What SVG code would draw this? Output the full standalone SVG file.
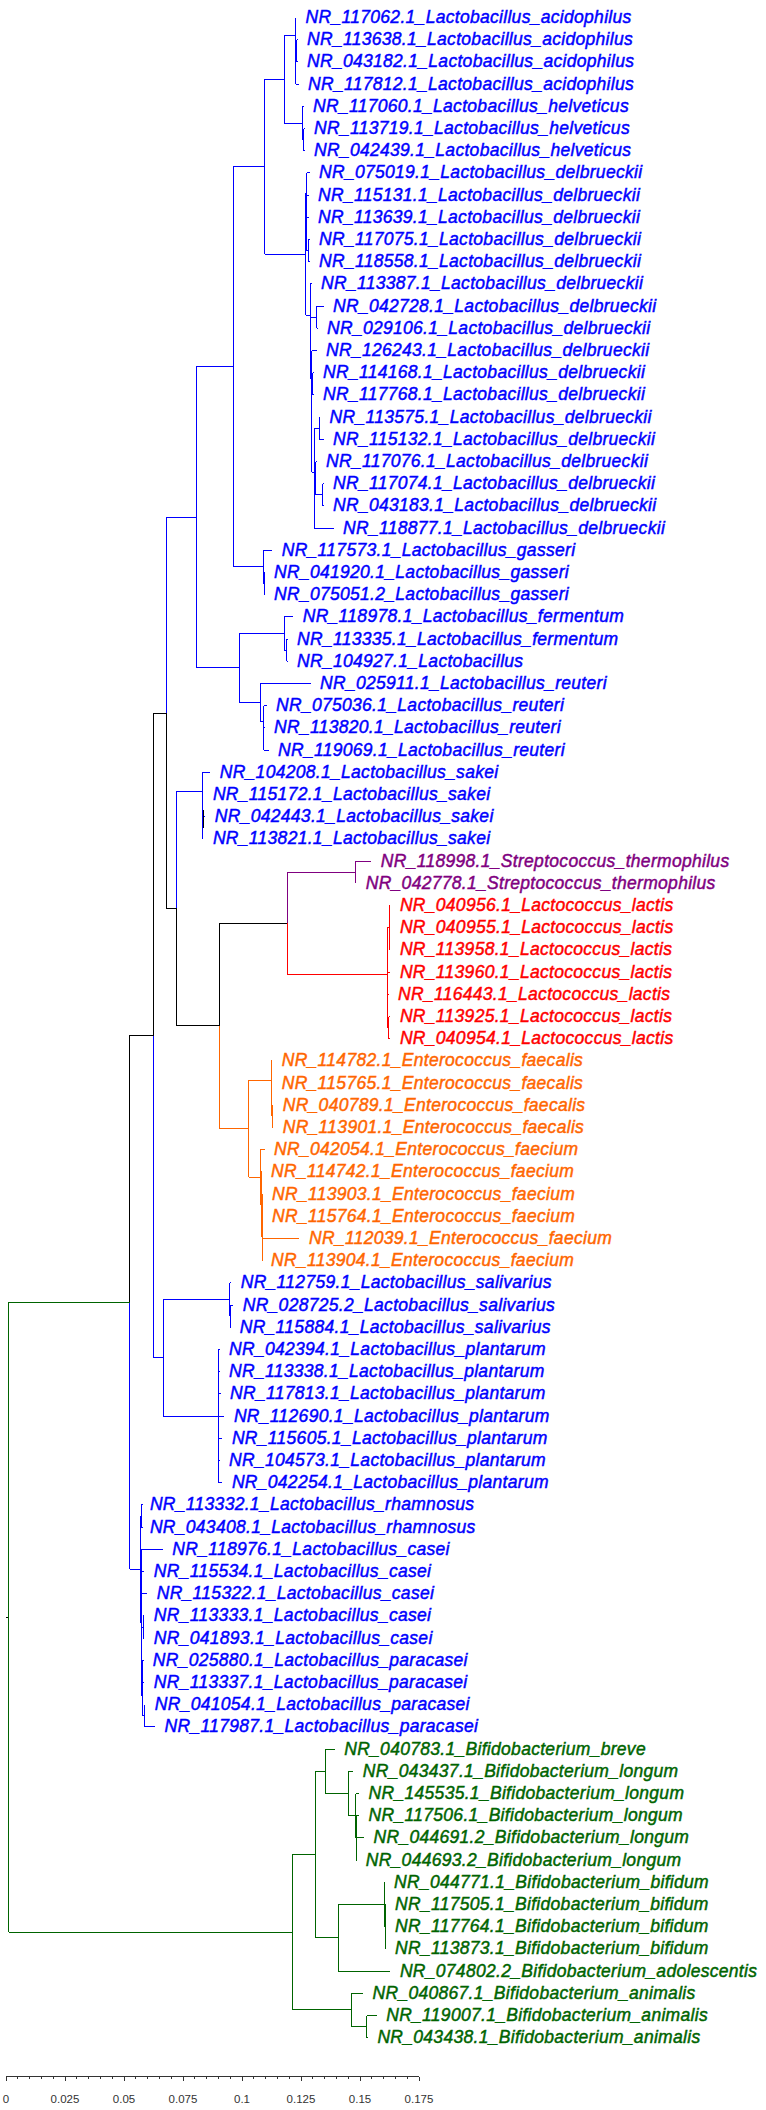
<svg xmlns="http://www.w3.org/2000/svg" width="766" height="2110" viewBox="0 0 766 2110">
<style>
.bg{fill:#ffffff}
#connectors path{fill:none;stroke-width:1;shape-rendering:crispEdges}
.sb{stroke:#0000ff}.sk{stroke:#000000}.sp{stroke:#800080}.sr{stroke:#ff0000}.so{stroke:#ff6600}.sg{stroke:#006400}
.t{font-family:"Liberation Sans",Arial,sans-serif;font-style:italic;font-size:17.5px;letter-spacing:0.3px;stroke-width:0.45px}
.fb{fill:#0000ff;stroke:#0000ff}.fp{fill:#800080;stroke:#800080}.fr{fill:#ff0000;stroke:#ff0000}.fo{fill:#ff6600;stroke:#ff6600}.fg{fill:#006400;stroke:#006400}
.scale path{fill:none;stroke:#333333;stroke-width:1;shape-rendering:crispEdges}
.sl{font-family:"Liberation Sans",Arial,sans-serif;font-size:11.5px;fill:#333333;text-anchor:middle}
</style>
<rect class="bg" x="0" y="0" width="766" height="2110"/>
<g id="connectors">
<path class="sb" d="M233.4 166.75V566.95M233.4 166.75H264.6M233.4 566.95H263.7M196.3 366.85H233.4M264.6 79.35V254.15M264.6 79.35H284.2M264.6 254.15H305.7M284.2 35.7V123M284.2 35.7H295.5M284.2 123H302M295.5 17.5V84.1M295.5 17.5H296.1M295.5 84.1H298.5M295.5 50.8H296.5M296.5 39.7V61.9M296.5 39.7H297.5M296.5 61.9H297.5M302 106.3V139.6M302 106.3H303.5M302 139.6H303.5M303.5 128.5V150.7M303.5 128.5H304.5M303.5 150.7H304.5"/>
<path class="sb" d="M305.7 193.3V315M305.7 193.3H306.5M306.5 172.9V250.6M306.5 172.9H309.5M306.5 195.1H308.5M306.5 217.3H308.5M306.5 250.6H308M308 239.5V261.7M308 239.5H309.5M308 261.7H309.5M305.7 315H310M310 283.9V378.3M310 283.9H311.5M310 317.2H316.7M316.7 306.1V328.3M316.7 306.1H323.5M316.7 328.3H317.5M310 378.3H311.5M311.5 350.5V472M311.5 350.5H316.5M311.5 383.8H312.5M312.5 372.7V394.9M312.5 372.7H313.5M312.5 394.9H313.5M311.5 472H314.3M314.3 428.2V528.1M314.3 428.2H319M319 417.1V439.3M319 417.1H320.1M319 439.3H323.5M314.3 478.6H315.7M315.7 461.5V494.8M315.7 461.5H316.5M315.7 494.8H322.5M322.5 483.7V505.9M322.5 483.7H323.5M322.5 505.9H323.5M314.3 528.1H333.5"/>
<path class="sb" d="M263.7 550.3V583.6M263.7 550.3H272.2M263.7 583.6H264.3M264.3 572.5V594.7M264.3 572.5H265M264.3 594.7H265"/>
<path class="sb" d="M196.3 366.85V667.9M196.3 667.9H239.3M166 517.4H196.3M239.3 633.55V702.25M239.3 633.55H284.2M239.3 702.25H260.3M284.2 616.9V650.2M284.2 616.9H293.2M284.2 650.2H286.5M286.5 639.1V661.3M286.5 639.1H287.5M286.5 661.3H287.5M260.3 683.5V721M260.3 683.5H310.5M260.3 721H263.5M263.5 705.7V750.1M263.5 705.7H266.5M263.5 727.9H264.5M263.5 750.1H268.5"/>
<path class="sb" d="M166 517.4V713M176.8 791.3V908.6M176.8 791.3H202M202 772.3V838.9M202 772.3H210.2M202 794.5H203.4M202 816.7H205.3M202 838.9H203.4"/>
<path class="sb" d="M153.8 1035.4V1357.8M153.8 1357.8H163M163 1299.55V1416.1M163 1299.55H229.5M163 1416.1H218.3M229.5 1282.9V1316.2M229.5 1282.9H231.2M229.5 1316.2H230.2M230.2 1305.1V1327.3M230.2 1305.1H233.2M230.2 1327.3H231M218.3 1349.5V1482.7M218.3 1349.5H219.5M218.3 1371.7H219.5M218.3 1393.9H220.5M218.3 1416.1H224.4M218.3 1438.3H222.4M218.3 1460.5H219.5M218.3 1482.7H222.4"/>
<path class="sb" d="M129.9 1302.35V1569.3M129.9 1569.3H140M140 1516V1622.6M140 1516H141M141 1504.9V1527.1M141 1504.9H142.5M141 1527.1H142.5M140 1622.6H141.7M141.7 1549.3V1695.9M141.7 1549.3H162.8M141.7 1571.5H144.3M141.7 1593.7H147.2M141.7 1627H143M143 1615.9V1638.1M143 1615.9H144.3M143 1638.1H144.3M141.7 1695.9H142.5M142.5 1671.4V1715.8M142.5 1671.4H142.8M142.8 1660.3V1682.5M142.8 1660.3H143.5M142.8 1682.5H144.3M142.5 1715.8H144.5M144.5 1704.7V1726.9M144.5 1704.7H145.3M144.5 1726.9H155"/>
<path class="sk" d="M153.8 713H166M166 713V908.6M166 908.6H176.8M176.8 908.6V1025.9M176.8 1025.9H219.7M219.7 923.1V1025.9M219.7 923.1H287.1M153.8 713V1035.4M129.9 1035.4H153.8M129.9 1035.4V1302.35M203 810V828M5.9 1617.3H8.8"/>
<path class="sp" d="M287.1 872.2V923.1M287.1 872.2H355.5M355.5 861.1V883.3M355.5 861.1H371.3M355.5 883.3H356.2"/>
<path class="sr" d="M287.1 923.1V974M287.1 974H387.2M387.2 927.7V1027.6M387.2 927.7H389M389 905.5V949.9M389 905.5H390.4M389 927.7H390.4M389 949.9H390.4M387.2 972.1H390.4M387.2 994.3H388.5M387.2 1027.6H388.5M388.5 1016.5V1038.7M388.5 1016.5H390.4M388.5 1038.7H390.4"/>
<path class="so" d="M219.7 1025.9V1128.7M219.7 1128.7H248.5M248.5 1080.35V1177M248.5 1080.35H271M248.5 1177H260.3M271 1060.9V1099.8M271 1060.9H272.2M271 1099.8H271.6M271.6 1083.1V1116.4M271.6 1083.1H272.2M271.6 1116.4H272.5M272.5 1105.3V1127.5M272.5 1105.3H273.2M272.5 1127.5H273.2M260.3 1149.7V1204.3M260.3 1149.7H264.5M260.3 1204.3H261.2M261.2 1171.9V1236.7M261.2 1171.9H261.5M261.2 1236.7H262M262 1194.1V1260.7M262 1194.1H262.5M262 1216.3H262.5M262 1238.5H298.5M262 1260.7H262.5"/>
<path class="sg" d="M8.8 1302.35V1932.2M8.8 1302.35H129.9M8.8 1932.2H292M292 1854.5V2009.95M292 1854.5H315.4M292 2009.95H351M315.4 1771.3V1937.7M315.4 1771.3H325.2M315.4 1937.7H338.4M325.2 1749.1V1793.5M325.2 1749.1H334.7M325.2 1793.5H348.1M348.1 1771.3V1815.7M348.1 1771.3H353.3M348.1 1815.7H355.5M355.5 1793.5V1838M355.5 1793.5H359.1M355.5 1838H356M356 1815.7V1860.1M356 1815.7H359.1M356 1837.9H364M356 1860.1H356.6M338.4 1904.5V1971.1M338.4 1904.5H384.3M338.4 1971.1H390.4M384.3 1882.3V1926.7M384.3 1882.3H384.8M384.3 1926.7H385M385 1904.5V1948.9M385 1904.5H385.5M385 1926.7H385.5M385 1948.9H385.5M351 1993.3V2026.6M351 1993.3H363M351 2026.6H366.7M366.7 2015.5V2037.7M366.7 2015.5H376.7M366.7 2037.7H367.9"/>
</g>
<g id="leaves" class="t">
<g id="leaf-01"><text class="fb" x="305.6" y="22.9">NR_117062.1_Lactobacillus_acidophilus</text></g>
<g id="leaf-02"><text class="fb" x="307" y="45.1">NR_113638.1_Lactobacillus_acidophilus</text></g>
<g id="leaf-03"><text class="fb" x="307" y="67.3">NR_043182.1_Lactobacillus_acidophilus</text></g>
<g id="leaf-04"><text class="fb" x="308" y="89.5">NR_117812.1_Lactobacillus_acidophilus</text></g>
<g id="leaf-05"><text class="fb" x="313" y="111.7">NR_117060.1_Lactobacillus_helveticus</text></g>
<g id="leaf-06"><text class="fb" x="314" y="133.9">NR_113719.1_Lactobacillus_helveticus</text></g>
<g id="leaf-07"><text class="fb" x="314" y="156.1">NR_042439.1_Lactobacillus_helveticus</text></g>
<g id="leaf-08"><text class="fb" x="319" y="178.3">NR_075019.1_Lactobacillus_delbrueckii</text></g>
<g id="leaf-09"><text class="fb" x="318" y="200.5">NR_115131.1_Lactobacillus_delbrueckii</text></g>
<g id="leaf-10"><text class="fb" x="318" y="222.7">NR_113639.1_Lactobacillus_delbrueckii</text></g>
<g id="leaf-11"><text class="fb" x="319" y="244.9">NR_117075.1_Lactobacillus_delbrueckii</text></g>
<g id="leaf-12"><text class="fb" x="319" y="267.1">NR_118558.1_Lactobacillus_delbrueckii</text></g>
<g id="leaf-13"><text class="fb" x="321" y="289.3">NR_113387.1_Lactobacillus_delbrueckii</text></g>
<g id="leaf-14"><text class="fb" x="333" y="311.5">NR_042728.1_Lactobacillus_delbrueckii</text></g>
<g id="leaf-15"><text class="fb" x="327" y="333.7">NR_029106.1_Lactobacillus_delbrueckii</text></g>
<g id="leaf-16"><text class="fb" x="326" y="355.9">NR_126243.1_Lactobacillus_delbrueckii</text></g>
<g id="leaf-17"><text class="fb" x="323" y="378.1">NR_114168.1_Lactobacillus_delbrueckii</text></g>
<g id="leaf-18"><text class="fb" x="323" y="400.3">NR_117768.1_Lactobacillus_delbrueckii</text></g>
<g id="leaf-19"><text class="fb" x="329.6" y="422.5">NR_113575.1_Lactobacillus_delbrueckii</text></g>
<g id="leaf-20"><text class="fb" x="333" y="444.7">NR_115132.1_Lactobacillus_delbrueckii</text></g>
<g id="leaf-21"><text class="fb" x="326" y="466.9">NR_117076.1_Lactobacillus_delbrueckii</text></g>
<g id="leaf-22"><text class="fb" x="333" y="489.1">NR_117074.1_Lactobacillus_delbrueckii</text></g>
<g id="leaf-23"><text class="fb" x="333" y="511.3">NR_043183.1_Lactobacillus_delbrueckii</text></g>
<g id="leaf-24"><text class="fb" x="343" y="533.5">NR_118877.1_Lactobacillus_delbrueckii</text></g>
<g id="leaf-25"><text class="fb" x="281.7" y="555.7">NR_117573.1_Lactobacillus_gasseri</text></g>
<g id="leaf-26"><text class="fb" x="274" y="577.9">NR_041920.1_Lactobacillus_gasseri</text></g>
<g id="leaf-27"><text class="fb" x="274" y="600.1">NR_075051.2_Lactobacillus_gasseri</text></g>
<g id="leaf-28"><text class="fb" x="302.7" y="622.3">NR_118978.1_Lactobacillus_fermentum</text></g>
<g id="leaf-29"><text class="fb" x="297" y="644.5">NR_113335.1_Lactobacillus_fermentum</text></g>
<g id="leaf-30"><text class="fb" x="297" y="666.7">NR_104927.1_Lactobacillus</text></g>
<g id="leaf-31"><text class="fb" x="320" y="688.9">NR_025911.1_Lactobacillus_reuteri</text></g>
<g id="leaf-32"><text class="fb" x="276" y="711.1">NR_075036.1_Lactobacillus_reuteri</text></g>
<g id="leaf-33"><text class="fb" x="274" y="733.3">NR_113820.1_Lactobacillus_reuteri</text></g>
<g id="leaf-34"><text class="fb" x="278" y="755.5">NR_119069.1_Lactobacillus_reuteri</text></g>
<g id="leaf-35"><text class="fb" x="219.7" y="777.7">NR_104208.1_Lactobacillus_sakei</text></g>
<g id="leaf-36"><text class="fb" x="212.9" y="799.9">NR_115172.1_Lactobacillus_sakei</text></g>
<g id="leaf-37"><text class="fb" x="214.8" y="822.1">NR_042443.1_Lactobacillus_sakei</text></g>
<g id="leaf-38"><text class="fb" x="212.9" y="844.3">NR_113821.1_Lactobacillus_sakei</text></g>
<g id="leaf-39"><text class="fp" x="380.8" y="866.5">NR_118998.1_Streptococcus_thermophilus</text></g>
<g id="leaf-40"><text class="fp" x="365.7" y="888.7">NR_042778.1_Streptococcus_thermophilus</text></g>
<g id="leaf-41"><text class="fr" x="399.9" y="910.9">NR_040956.1_Lactococcus_lactis</text></g>
<g id="leaf-42"><text class="fr" x="399.9" y="933.1">NR_040955.1_Lactococcus_lactis</text></g>
<g id="leaf-43"><text class="fr" x="399.9" y="955.3">NR_113958.1_Lactococcus_lactis</text></g>
<g id="leaf-44"><text class="fr" x="399.9" y="977.5">NR_113960.1_Lactococcus_lactis</text></g>
<g id="leaf-45"><text class="fr" x="398" y="999.7">NR_116443.1_Lactococcus_lactis</text></g>
<g id="leaf-46"><text class="fr" x="399.9" y="1021.9">NR_113925.1_Lactococcus_lactis</text></g>
<g id="leaf-47"><text class="fr" x="399.9" y="1044.1">NR_040954.1_Lactococcus_lactis</text></g>
<g id="leaf-48"><text class="fo" x="281.7" y="1066.3">NR_114782.1_Enterococcus_faecalis</text></g>
<g id="leaf-49"><text class="fo" x="281.7" y="1088.5">NR_115765.1_Enterococcus_faecalis</text></g>
<g id="leaf-50"><text class="fo" x="282.7" y="1110.7">NR_040789.1_Enterococcus_faecalis</text></g>
<g id="leaf-51"><text class="fo" x="282.7" y="1132.9">NR_113901.1_Enterococcus_faecalis</text></g>
<g id="leaf-52"><text class="fo" x="274" y="1155.1">NR_042054.1_Enterococcus_faecium</text></g>
<g id="leaf-53"><text class="fo" x="271" y="1177.3">NR_114742.1_Enterococcus_faecium</text></g>
<g id="leaf-54"><text class="fo" x="272" y="1199.5">NR_113903.1_Enterococcus_faecium</text></g>
<g id="leaf-55"><text class="fo" x="272" y="1221.7">NR_115764.1_Enterococcus_faecium</text></g>
<g id="leaf-56"><text class="fo" x="309" y="1243.9">NR_112039.1_Enterococcus_faecium</text></g>
<g id="leaf-57"><text class="fo" x="271" y="1266.1">NR_113904.1_Enterococcus_faecium</text></g>
<g id="leaf-58"><text class="fb" x="240.7" y="1288.3">NR_112759.1_Lactobacillus_salivarius</text></g>
<g id="leaf-59"><text class="fb" x="242.7" y="1310.5">NR_028725.2_Lactobacillus_salivarius</text></g>
<g id="leaf-60"><text class="fb" x="239.7" y="1332.7">NR_115884.1_Lactobacillus_salivarius</text></g>
<g id="leaf-61"><text class="fb" x="229" y="1354.9">NR_042394.1_Lactobacillus_plantarum</text></g>
<g id="leaf-62"><text class="fb" x="229" y="1377.1">NR_113338.1_Lactobacillus_plantarum</text></g>
<g id="leaf-63"><text class="fb" x="230" y="1399.3">NR_117813.1_Lactobacillus_plantarum</text></g>
<g id="leaf-64"><text class="fb" x="233.9" y="1421.5">NR_112690.1_Lactobacillus_plantarum</text></g>
<g id="leaf-65"><text class="fb" x="231.9" y="1443.7">NR_115605.1_Lactobacillus_plantarum</text></g>
<g id="leaf-66"><text class="fb" x="229" y="1465.9">NR_104573.1_Lactobacillus_plantarum</text></g>
<g id="leaf-67"><text class="fb" x="231.9" y="1488.1">NR_042254.1_Lactobacillus_plantarum</text></g>
<g id="leaf-68"><text class="fb" x="149.9" y="1510.3">NR_113332.1_Lactobacillus_rhamnosus</text></g>
<g id="leaf-69"><text class="fb" x="149.9" y="1532.5">NR_043408.1_Lactobacillus_rhamnosus</text></g>
<g id="leaf-70"><text class="fb" x="172.3" y="1554.7">NR_118976.1_Lactobacillus_casei</text></g>
<g id="leaf-71"><text class="fb" x="153.8" y="1576.9">NR_115534.1_Lactobacillus_casei</text></g>
<g id="leaf-72"><text class="fb" x="156.7" y="1599.1">NR_115322.1_Lactobacillus_casei</text></g>
<g id="leaf-73"><text class="fb" x="153.8" y="1621.3">NR_113333.1_Lactobacillus_casei</text></g>
<g id="leaf-74"><text class="fb" x="153.8" y="1643.5">NR_041893.1_Lactobacillus_casei</text></g>
<g id="leaf-75"><text class="fb" x="152.8" y="1665.7">NR_025880.1_Lactobacillus_paracasei</text></g>
<g id="leaf-76"><text class="fb" x="153.8" y="1687.9">NR_113337.1_Lactobacillus_paracasei</text></g>
<g id="leaf-77"><text class="fb" x="154.8" y="1710.1">NR_041054.1_Lactobacillus_paracasei</text></g>
<g id="leaf-78"><text class="fb" x="164.5" y="1732.3">NR_117987.1_Lactobacillus_paracasei</text></g>
<g id="leaf-79"><text class="fg" x="344.2" y="1754.5">NR_040783.1_Bifidobacterium_breve</text></g>
<g id="leaf-80"><text class="fg" x="362.8" y="1776.7">NR_043437.1_Bifidobacterium_longum</text></g>
<g id="leaf-81"><text class="fg" x="368.6" y="1798.9">NR_145535.1_Bifidobacterium_longum</text></g>
<g id="leaf-82"><text class="fg" x="368.6" y="1821.1">NR_117506.1_Bifidobacterium_longum</text></g>
<g id="leaf-83"><text class="fg" x="373.5" y="1843.3">NR_044691.2_Bifidobacterium_longum</text></g>
<g id="leaf-84"><text class="fg" x="365.7" y="1865.5">NR_044693.2_Bifidobacterium_longum</text></g>
<g id="leaf-85"><text class="fg" x="394" y="1887.7">NR_044771.1_Bifidobacterium_bifidum</text></g>
<g id="leaf-86"><text class="fg" x="395" y="1909.9">NR_117505.1_Bifidobacterium_bifidum</text></g>
<g id="leaf-87"><text class="fg" x="395" y="1932.1">NR_117764.1_Bifidobacterium_bifidum</text></g>
<g id="leaf-88"><text class="fg" x="395" y="1954.3">NR_113873.1_Bifidobacterium_bifidum</text></g>
<g id="leaf-89"><text class="fg" x="399.9" y="1976.5">NR_074802.2_Bifidobacterium_adolescentis</text></g>
<g id="leaf-90"><text class="fg" x="372.5" y="1998.7">NR_040867.1_Bifidobacterium_animalis</text></g>
<g id="leaf-91"><text class="fg" x="386.2" y="2020.9">NR_119007.1_Bifidobacterium_animalis</text></g>
<g id="leaf-92"><text class="fg" x="377.4" y="2043.1">NR_043438.1_Bifidobacterium_animalis</text></g>
</g>
<g id="scale-bar" class="scale">
<path d="M6 2076.5H419M6 2076.5V2081M65 2076.5V2081M124 2076.5V2081M183 2076.5V2081M242 2076.5V2081M301 2076.5V2081M360 2076.5V2081M419 2076.5V2081"/>
<path d="M17.8 2076.5V2079M29.6 2076.5V2079M41.4 2076.5V2079M53.2 2076.5V2079M76.8 2076.5V2079M88.6 2076.5V2079M100.4 2076.5V2079M112.2 2076.5V2079M135.8 2076.5V2079M147.6 2076.5V2079M159.4 2076.5V2079M171.2 2076.5V2079M194.8 2076.5V2079M206.6 2076.5V2079M218.4 2076.5V2079M230.2 2076.5V2079M253.8 2076.5V2079M265.6 2076.5V2079M277.4 2076.5V2079M289.2 2076.5V2079M312.8 2076.5V2079M324.6 2076.5V2079M336.4 2076.5V2079M348.2 2076.5V2079M371.8 2076.5V2079M383.6 2076.5V2079M395.4 2076.5V2079M407.2 2076.5V2079"/>
<text class="sl" x="6" y="2103">0</text>
<text class="sl" x="65" y="2103">0.025</text>
<text class="sl" x="124" y="2103">0.05</text>
<text class="sl" x="183" y="2103">0.075</text>
<text class="sl" x="242" y="2103">0.1</text>
<text class="sl" x="301" y="2103">0.125</text>
<text class="sl" x="360" y="2103">0.15</text>
<text class="sl" x="419" y="2103">0.175</text>
</g>
</svg>
